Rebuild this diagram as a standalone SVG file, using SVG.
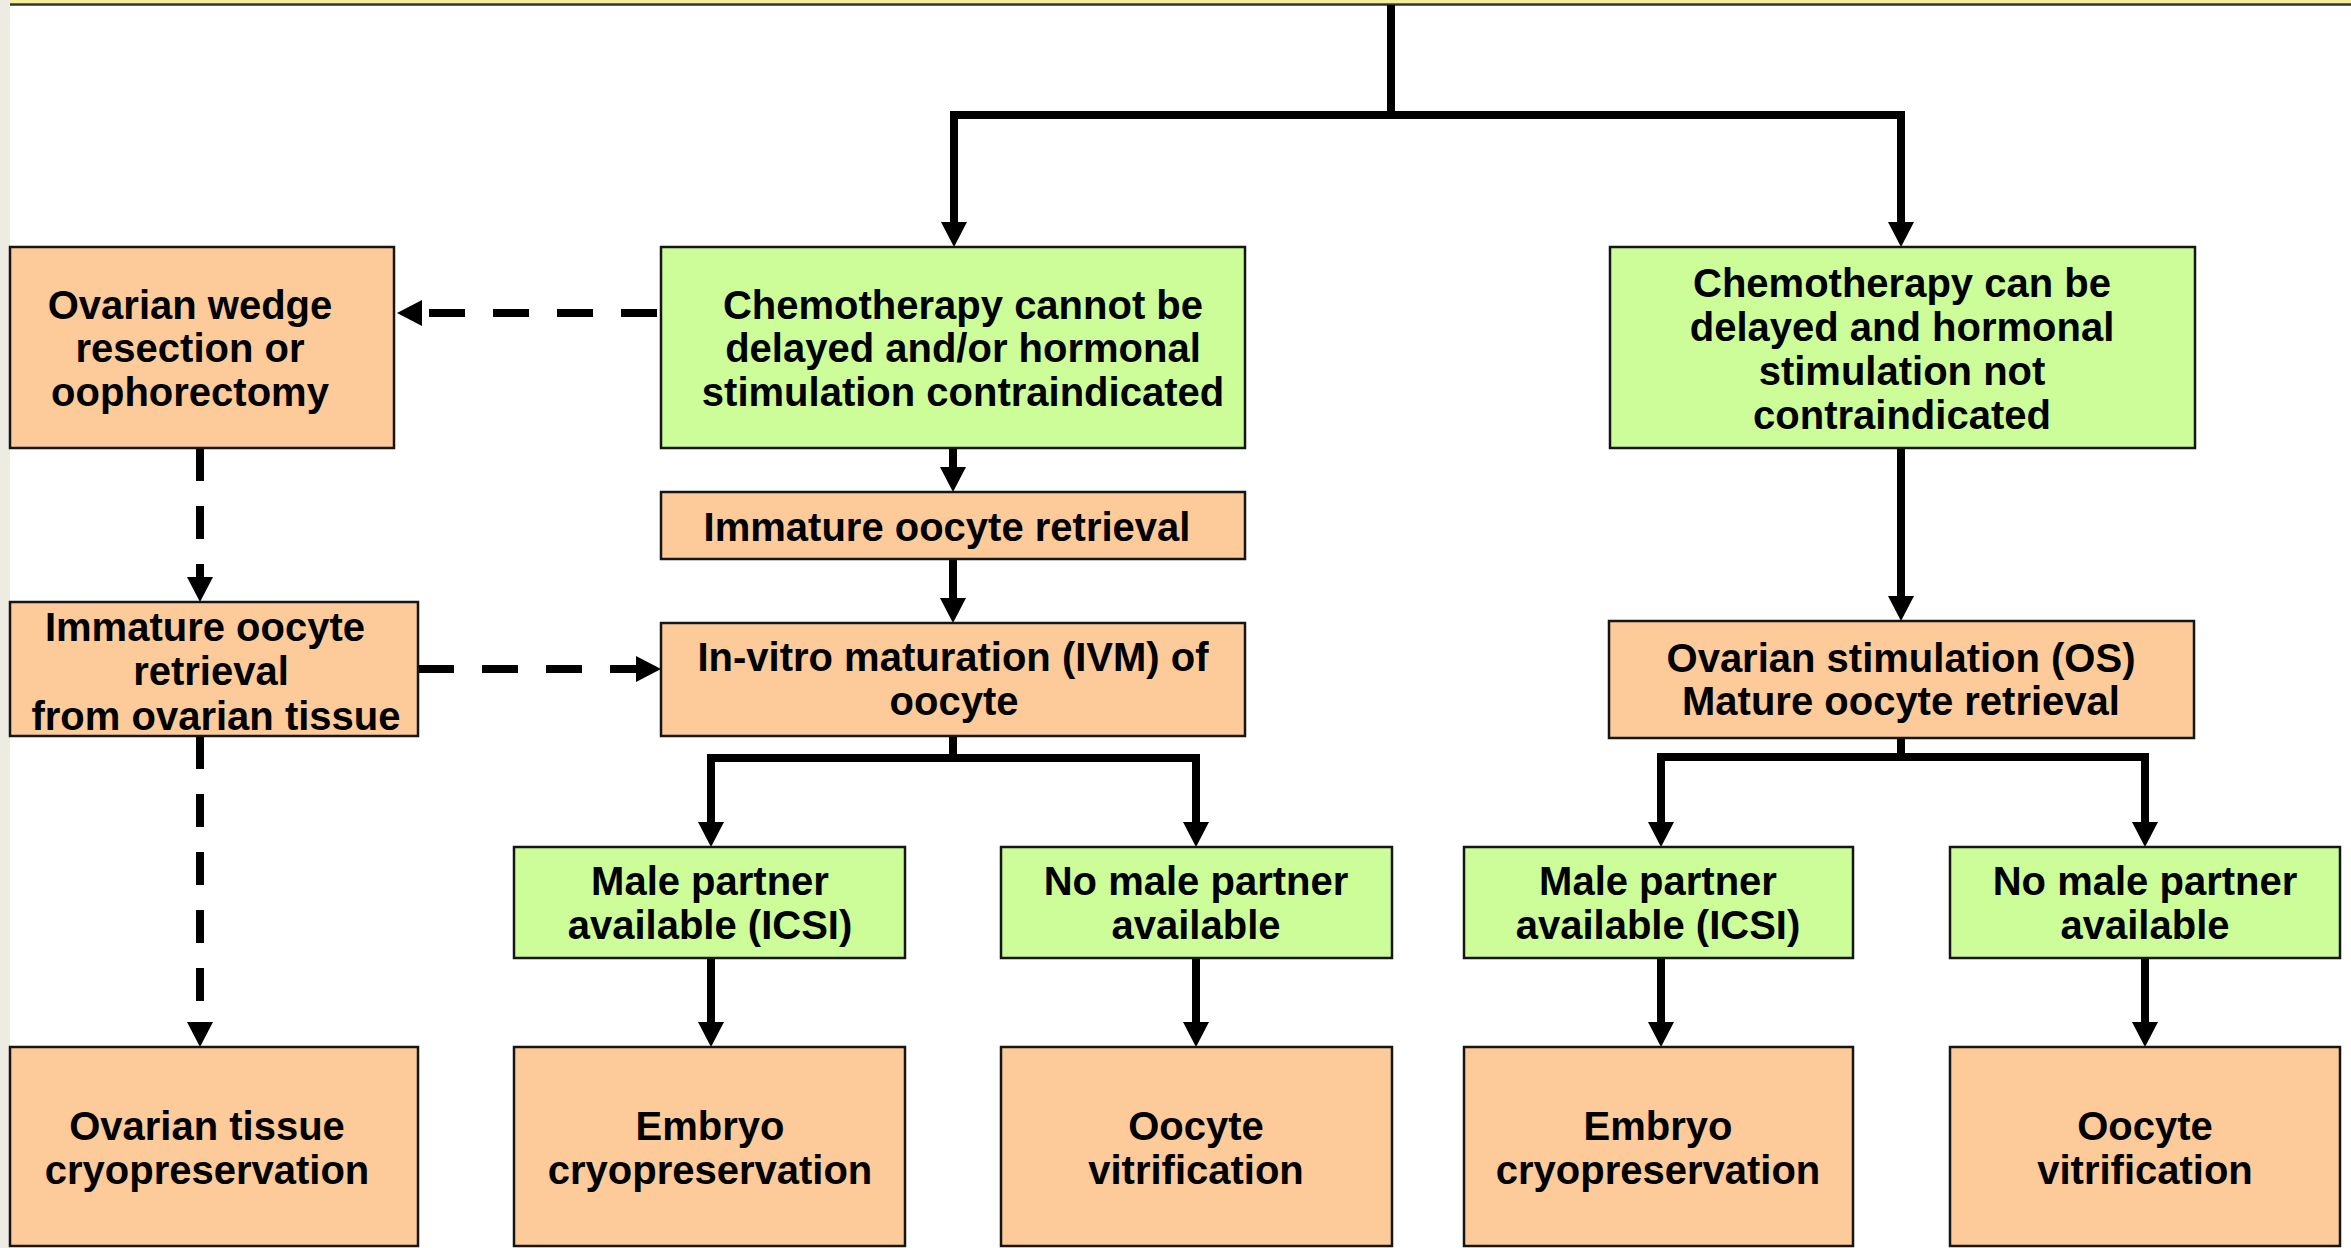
<svg xmlns="http://www.w3.org/2000/svg" width="2351" height="1248" viewBox="0 0 2351 1248">
<style>
.or{fill:#FCCB99;stroke:#151515;stroke-width:2.5}
.gr{fill:#CCFD99;stroke:#151515;stroke-width:2.5}
text{font-family:"Liberation Sans",Arial,sans-serif;font-weight:bold;font-size:40px;fill:#000;text-anchor:middle}
.ln{fill:none;stroke:#000;stroke-width:8;stroke-linejoin:miter}
.dh{stroke-dasharray:36 28}
.dv{stroke-dasharray:33 25}
</style>
<defs>
<marker id="ah" viewBox="0 -13 25 26" markerWidth="25" markerHeight="26" refX="0" refY="0" orient="auto" markerUnits="userSpaceOnUse">
<path d="M0,-13 L25,0 L0,13 z" fill="#000"/>
</marker>
</defs>
<rect x="0" y="0" width="2351" height="1248" fill="#fff"/>
<rect x="0" y="0" width="10" height="1248" fill="#EEEBE3"/>
<rect x="10" y="0" width="2341" height="3" fill="#F3EE98"/>
<line x1="10" y1="4.5" x2="2351" y2="4.5" stroke="#333" stroke-width="2.5"/>
<g id="connectors">
<path class="ln" d="M1391,5 V115"/>
<path class="ln" d="M1391,115 H954 V222" marker-end="url(#ah)"/>
<path class="ln" d="M1391,115 H1901 V222" marker-end="url(#ah)"/>
<path class="ln" d="M953,448 V467" marker-end="url(#ah)"/>
<path class="ln" d="M953,559 V598" marker-end="url(#ah)"/>
<path class="ln" d="M1901,448 V596" marker-end="url(#ah)"/>
<path class="ln" d="M953,736 V758"/>
<path class="ln" d="M953,758 H711 V822" marker-end="url(#ah)"/>
<path class="ln" d="M953,758 H1196 V822" marker-end="url(#ah)"/>
<path class="ln" d="M1901,738 V757"/>
<path class="ln" d="M1901,757 H1661 V822" marker-end="url(#ah)"/>
<path class="ln" d="M1901,757 H2145 V822" marker-end="url(#ah)"/>
<path class="ln" d="M711,958 V1022" marker-end="url(#ah)"/>
<path class="ln" d="M1196,958 V1022" marker-end="url(#ah)"/>
<path class="ln" d="M1661,958 V1022" marker-end="url(#ah)"/>
<path class="ln" d="M2145,958 V1022" marker-end="url(#ah)"/>
<path class="ln dh" d="M657,313 H422" marker-end="url(#ah)"/>
<path class="ln dv" d="M200,448 V577" marker-end="url(#ah)"/>
<path class="ln dh" d="M418,669 H636" marker-end="url(#ah)"/>
<path class="ln dv" d="M200,736 V1022" marker-end="url(#ah)"/>
</g>
<g id="n-wedge"><rect class="or" x="10" y="247" width="384" height="201"/>
<text x="190" y="319">Ovarian wedge</text><text x="190" y="362">resection or</text><text x="190" y="406">oophorectomy</text></g>
<g id="n-cannot"><rect class="gr" x="661" y="247" width="584" height="201"/>
<text x="963" y="319">Chemotherapy cannot be</text><text x="963" y="362">delayed and/or hormonal</text><text x="963" y="406">stimulation contraindicated</text></g>
<g id="n-can"><rect class="gr" x="1610" y="247" width="585" height="201"/>
<text x="1902" y="297">Chemotherapy can be</text><text x="1902" y="341">delayed and hormonal</text><text x="1902" y="385">stimulation not</text><text x="1902" y="429">contraindicated</text></g>
<g id="n-immature"><rect class="or" x="661" y="492" width="584" height="67"/>
<text x="947" y="541">Immature oocyte retrieval</text></g>
<g id="n-tissue-retrieval"><rect class="or" x="10" y="602" width="408" height="134"/>
<text x="205" y="641">Immature oocyte</text><text x="211" y="685">retrieval</text><text x="216" y="730">from ovarian tissue</text></g>
<g id="n-ivm"><rect class="or" x="661" y="623" width="584" height="113"/>
<text x="953" y="671">In-vitro maturation (IVM) of</text><text x="954" y="715">oocyte</text></g>
<g id="n-os"><rect class="or" x="1609" y="621" width="585" height="117"/>
<text x="1901" y="672">Ovarian stimulation (OS)</text><text x="1901" y="715">Mature oocyte retrieval</text></g>
<g id="n-male-l"><rect class="gr" x="514" y="847" width="391" height="111"/>
<text x="710" y="895">Male partner</text><text x="710" y="939">available (ICSI)</text></g>
<g id="n-nomale-l"><rect class="gr" x="1001" y="847" width="391" height="111"/>
<text x="1196" y="895">No male partner</text><text x="1196" y="939">available</text></g>
<g id="n-male-r"><rect class="gr" x="1464" y="847" width="389" height="111"/>
<text x="1658" y="895">Male partner</text><text x="1658" y="939">available (ICSI)</text></g>
<g id="n-nomale-r"><rect class="gr" x="1950" y="847" width="390" height="111"/>
<text x="2145" y="895">No male partner</text><text x="2145" y="939">available</text></g>
<g id="n-tissue-cryo"><rect class="or" x="10" y="1047" width="408" height="199"/>
<text x="207" y="1140">Ovarian tissue</text><text x="207" y="1184">cryopreservation</text></g>
<g id="n-embryo-l"><rect class="or" x="514" y="1047" width="391" height="199"/>
<text x="710" y="1140">Embryo</text><text x="710" y="1184">cryopreservation</text></g>
<g id="n-oocyte-l"><rect class="or" x="1001" y="1047" width="391" height="199"/>
<text x="1196" y="1140">Oocyte</text><text x="1196" y="1184">vitrification</text></g>
<g id="n-embryo-r"><rect class="or" x="1464" y="1047" width="389" height="199"/>
<text x="1658" y="1140">Embryo</text><text x="1658" y="1184">cryopreservation</text></g>
<g id="n-oocyte-r"><rect class="or" x="1950" y="1047" width="390" height="199"/>
<text x="2145" y="1140">Oocyte</text><text x="2145" y="1184">vitrification</text></g>
</svg>
